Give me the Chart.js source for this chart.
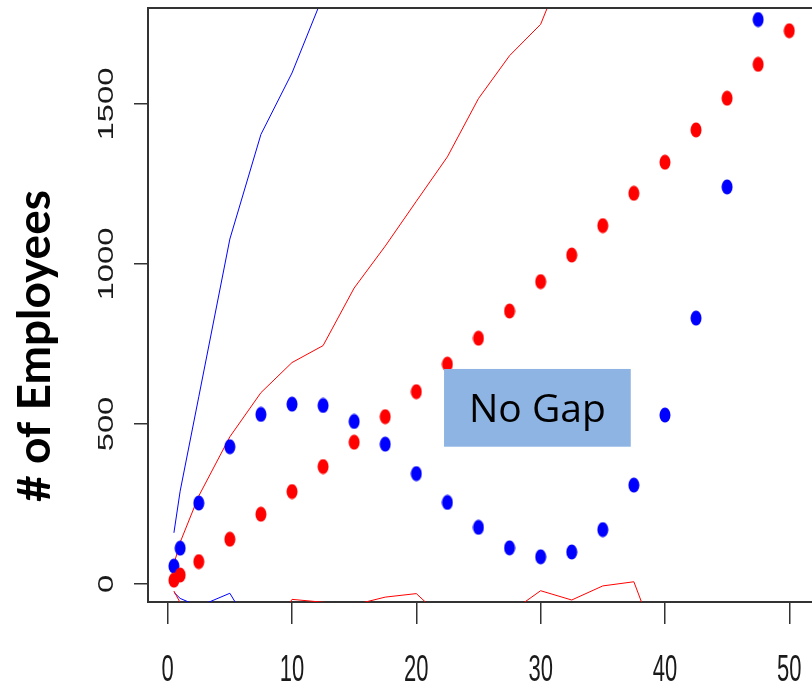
<!DOCTYPE html>
<html>
<head>
<meta charset="utf-8">
<title># of Employees</title>
<script src="https://cdn.jsdelivr.net/npm/chart.js@4.4.1/dist/chart.umd.min.js"></script>
<style>
  html, body { margin: 0; padding: 0; background: #ffffff; }
  #wrap { position: relative; width: 812px; height: 686px; }
</style>
</head>
<body>
<div id="wrap"><canvas id="staffChart"></canvas></div>
<script>
// --- data ---
const sizes = [0.5, 1, 2.5, 5, 7.5, 10, 12.5, 15, 17.5, 20, 22.5, 25, 27.5, 30, 32.5, 35, 37.5, 40, 42.5, 45, 47.5, 50];
const redCounts = [12, 28, 70, 140, 218, 289, 367, 443, 523, 601, 687, 768, 853, 945, 1028, 1120, 1221, 1318, 1419, 1518, 1624, 1729];
const blueCounts = [56, 112, 253, 429, 530, 562, 558, 508, 437, 345, 255, 177, 113, 85, 100, 170, 309, 528, 831, 1241, 1764, null];

// band edges
const blueUpperX = [0.5, 1, 2.5, 5, 7.5, 10, 12.5];
const blueUpperY = [160, 290, 585, 1078, 1405, 1597, 1838];
const redUpperX = [0.5, 1, 2.5, 5, 7.5, 10, 12.5, 15, 17.5, 20, 22.5, 25, 27.5, 30, 32.5];
const redUpperY = [62, 130, 275, 460, 598, 692, 745, 925, 1056, 1196, 1335, 1517, 1651, 1749, 1990];
const blueLowerX = [0.5, 1, 2.5, 5, 7.5];
const blueLowerY = [-26, -45, -70, -29, -190];
const redLowerX = [0.5, 1, 2.5, 5, 7.5, 10, 12.5, 15, 17.5, 20, 22.5, 25, 27.5, 30, 32.5, 35, 37.5, 40];
const redLowerY = [-22, -58, -160, -180, -200, -48, -57, -65, -41, -30, -120, -160, -90, -21, -50, -6, 7, -250];

const xTicks = [0, 10, 20, 30, 40, 50];
const yTicks = [0, 500, 1000, 1500];

const yTitle = '# of Employees';
const noteText = 'No Gap';

function toPoints(xs, ys) {
    return xs.map((x, i) => ({ x: x, y: ys[i] }));
}

// slightly tall oval dots
function makeDot(color) {
    const c = document.createElement('canvas');
    c.width = 12;
    c.height = 16;
    const g = c.getContext('2d');
    g.fillStyle = color;
    g.beginPath();
    g.ellipse(6, 8, 5.5, 7.5, 0, 0, Math.PI * 2);
    g.fill();
    return c;
}

function lineSet(xs, ys, color) {
    return {
        data: toPoints(xs, ys),
        showLine: true,
        borderColor: color,
        borderWidth: 1,
        pointRadius: 0,
        tension: 0
    };
}

// --- extra drawing: frame top, stretched tick labels, axis title, note box ---
const decorPlugin = {
    id: 'decor',
    afterDatasetsDraw(chart) {
        const ctx = chart.ctx;
        const xs = chart.scales.x;
        const ys = chart.scales.y;

        // note box
        const bx0 = xs.getPixelForValue(22.23);
        const bx1 = xs.getPixelForValue(37.25);
        const by0 = ys.getPixelForValue(672);
        const by1 = ys.getPixelForValue(429);
        ctx.save();
        ctx.fillStyle = '#8eb4e3';
        ctx.fillRect(bx0, by0, bx1 - bx0, by1 - by0);
        ctx.fillStyle = '#000000';
        ctx.font = '39px "Open Sans", "Noto Sans", sans-serif';
        ctx.textAlign = 'center';
        ctx.textBaseline = 'alphabetic';
        ctx.fillText(noteText, (bx0 + bx1) / 2, by1 - 25);
        ctx.restore();
    },
    afterDraw(chart) {
        const ctx = chart.ctx;
        const area = chart.chartArea;
        const xs = chart.scales.x;
        const ys = chart.scales.y;

        ctx.save();
        ctx.strokeStyle = '#333333';
        ctx.lineWidth = 2;
        ctx.beginPath();
        ctx.moveTo(area.left - 1, area.top);
        ctx.lineTo(area.right, area.top);
        ctx.stroke();

        ctx.fillStyle = '#1a1a1a';
        ctx.font = '22px "Liberation Sans", Arial, sans-serif';
        ctx.textAlign = 'center';
        ctx.textBaseline = 'alphabetic';

        xTicks.forEach(v => {
            ctx.save();
            ctx.translate(xs.getPixelForValue(v), 681);
            ctx.scale(1, 1.7);
            ctx.fillText(String(v), 0, 0);
            ctx.restore();
        });

        yTicks.forEach(v => {
            ctx.save();
            ctx.translate(113, ys.getPixelForValue(v));
            ctx.rotate(-Math.PI / 2);
            ctx.scale(1.49, 1);
            ctx.fillText(String(v), 0, 0);
            ctx.restore();
        });

        ctx.fillStyle = '#000000';
        ctx.font = 'bold 46px Lato, "Liberation Sans", sans-serif';
        ctx.translate(50, 346);
        ctx.rotate(-Math.PI / 2);
        ctx.fillText(yTitle, 0, 0);
        ctx.restore();
    }
};

const axisGrid = {
    drawOnChartArea: false,
    drawTicks: true,
    color: '#333333',
    lineWidth: 1.5
};

new Chart(document.getElementById('staffChart'), {
    type: 'scatter',
    data: {
        datasets: [
            {
                data: toPoints(sizes, redCounts),
                pointStyle: makeDot('#ff0000'),
                pointRadius: 6,
                pointHoverRadius: 6
            },
            {
                data: toPoints(sizes, blueCounts),
                pointStyle: makeDot('#0000ff'),
                pointRadius: 6,
                pointHoverRadius: 6
            },
            lineSet(redUpperX, redUpperY, '#ff0000'),
            lineSet(blueUpperX, blueUpperY, '#0000ff'),
            lineSet(redLowerX, redLowerY, '#ff0000'),
            lineSet(blueLowerX, blueLowerY, '#0000ff')
        ]
    },
    options: {
        responsive: true,
        maintainAspectRatio: false,
        animation: false,
        events: [],
        layout: { autoPadding: false, padding: { top: 8, left: 0, right: 0, bottom: 0 } },
        plugins: {
            legend: { display: false },
            tooltip: { enabled: false }
        },
        scales: {
            x: {
                type: 'linear',
                min: -1.585,
                max: 51.83,
                afterBuildTicks: s => { s.ticks = xTicks.map(v => ({ value: v })); },
                afterFit: s => { s.height = 84; },
                ticks: { display: false },
                grid: Object.assign({ tickLength: 22 }, axisGrid),
                border: { display: true, color: '#333333', width: 2 }
            },
            y: {
                type: 'linear',
                min: -56.25,
                max: 1800,
                afterBuildTicks: s => { s.ticks = yTicks.map(v => ({ value: v })); },
                afterFit: s => { s.width = 148; },
                ticks: { display: false },
                grid: Object.assign({ tickLength: 14 }, axisGrid),
                border: { display: true, color: '#333333', width: 2 }
            }
        }
    },
    plugins: [decorPlugin]
});
</script>
</body>
</html>
